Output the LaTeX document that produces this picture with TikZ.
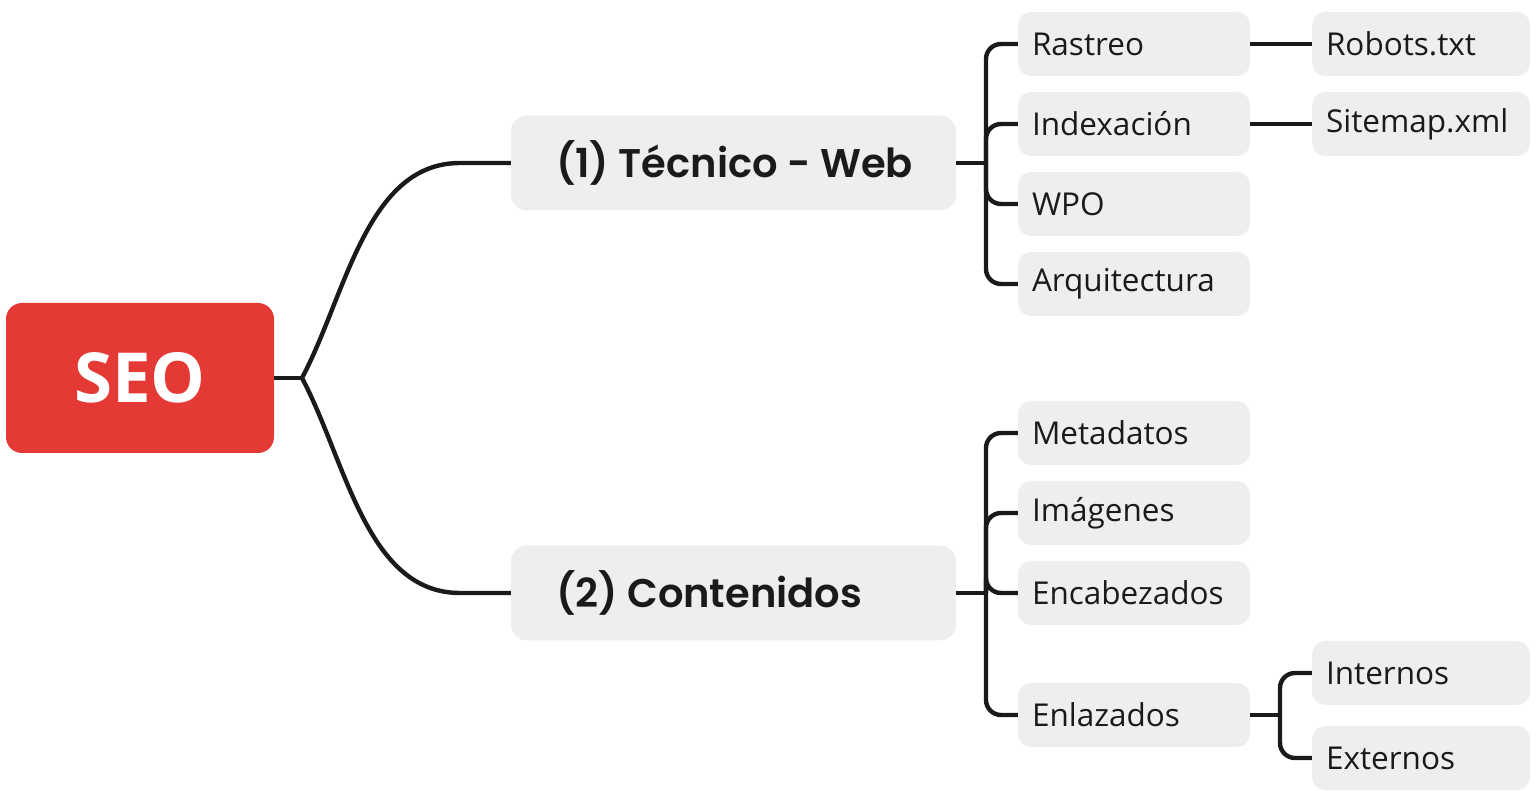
\documentclass[tikz,border=0pt]{standalone}
\usepackage{fontspec}
\setmainfont{Open Sans}
\newfontfamily\hfont{Poppins SemiBold}
\definecolor{seored}{HTML}{E53935}
\definecolor{boxgray}{HTML}{EEEEEE}
\definecolor{ink}{HTML}{1A1A1A}
\newcommand{\lbox}[2]{\makebox[#1][l]{#2}}
\begin{document}
\begin{tikzpicture}[x=1pt,y=1pt,
  root/.style={fill=seored, rounded corners=16pt, minimum width=268pt, minimum height=150pt, inner sep=0pt, text=white, font=\fontsize{69}{74}\selectfont\bfseries},
  head/.style={fill=boxgray, rounded corners=16pt, minimum width=445pt, minimum height=95pt, inner xsep=45pt, inner ysep=0pt, font=\hfont\fontsize{40}{45}\selectfont, text=ink},
  leaf/.style={fill=boxgray, rounded corners=13pt, minimum width=232pt, minimum height=64pt, inner xsep=14pt, inner ysep=0pt, font=\fontsize{31.5}{35}\selectfont, text=ink},
  leafr/.style={leaf, minimum width=218pt},
  link/.style={draw=ink, line width=4.4pt},
  bus/.style={link, rounded corners=15pt}
]
\useasboundingbox (0,0) rectangle (1537,790);
\node[root] (seo) at (140,412) {SEO};
\node[head] (tec) at (733.5,627) {\lbox{355pt}{(1) Técnico - Web}};
\node[head] (con) at (733.5,197) {\lbox{355pt}{(2) Contenidos}};

\node[leaf] (ras) at (1134,746) {\lbox{204pt}{Rastreo}};
\node[leaf] (ind) at (1134,666) {\lbox{204pt}{Indexación}};
\node[leaf] (wpo) at (1134,586) {\lbox{204pt}{WPO}};
\node[leaf] (arq) at (1134,506) {\lbox{204pt}{Arquitectura}};
\node[leaf] (met) at (1134,357) {\lbox{204pt}{Metadatos}};
\node[leaf] (ima) at (1134,277) {\lbox{204pt}{Imágenes}};
\node[leaf] (enc) at (1134,197) {\lbox{204pt}{Encabezados}};
\node[leaf] (enl) at (1134,75) {\lbox{204pt}{Enlazados}};

\node[leafr] (rob) at (1421,746) {\lbox{190pt}{Robots.txt}};
\node[leafr] (sit) at (1421,666) {\lbox{190pt}{Sitemap.xml}};
\node[leafr] (int) at (1421,117) {\lbox{190pt}{Internos}};
\node[leafr] (ext) at (1421,32) {\lbox{190pt}{Externos}};

\coordinate (j) at (302,412);
\coordinate (jt) at (986,627);
\coordinate (jc) at (986,197);
\coordinate (je) at (1280,75);

\draw[link] (seo.east) -- (j);
\draw[link] (j) to[out=62,in=180,looseness=0.9] (460,627) -- (tec.west);
\draw[link] (j) to[out=-62,in=180,looseness=0.9] (460,197) -- (con.west);

\draw[link] (tec.east) -- (jt);
\foreach \c in {ras,ind,wpo,arq} \draw[bus] (jt) |- (\c.west);
\draw[link] (con.east) -- (jc);
\foreach \c in {met,ima,enc,enl} \draw[bus] (jc) |- (\c.west);

\draw[link] (ras.east) -- (rob.west);
\draw[link] (ind.east) -- (sit.west);
\draw[link] (enl.east) -- (je);
\foreach \c in {int,ext} \draw[bus] (je) |- (\c.west);
\end{tikzpicture}
\end{document}
